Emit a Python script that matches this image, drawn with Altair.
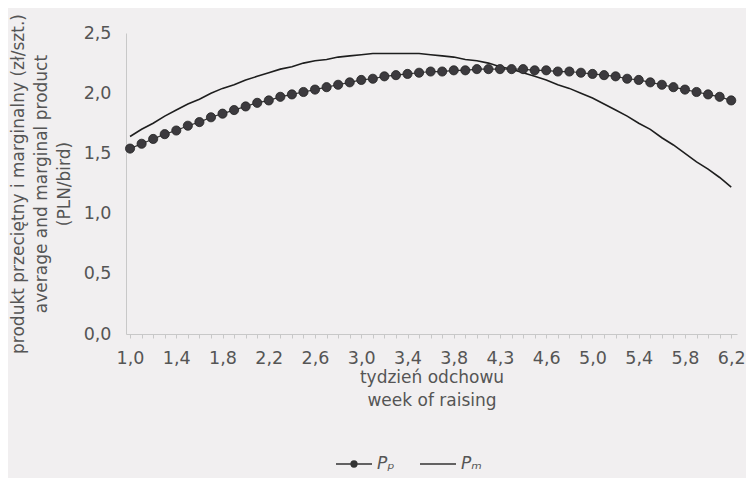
import altair as alt
import pandas as pd

weeks = ["1,0","1,1","1,2","1,3","1,4","1,5","1,6","1,7","1,8","1,9",
         "2,0","2,1","2,2","2,3","2,4","2,5","2,6","2,7","2,8","2,9",
         "3,0","3,1","3,2","3,3","3,4","3,5","3,6","3,7","3,8","3,9",
         "4,0","4,1","4,3","4,4","4,4","4,5","4,6","4,7","4,8","4,9",
         "5,0","5,1","5,2","5,3","5,4","5,5","5,6","5,7","5,8","5,9",
         "6,0","6,1","6,2"]

pp = [1.54,1.58,1.62,1.66,1.69,1.73,1.76,1.80,1.83,1.86,
      1.89,1.92,1.94,1.97,1.99,2.01,2.03,2.05,2.07,2.09,
      2.11,2.12,2.14,2.15,2.16,2.17,2.18,2.18,2.19,2.19,
      2.20,2.20,2.20,2.20,2.20,2.19,2.19,2.18,2.18,2.17,
      2.16,2.15,2.14,2.12,2.11,2.09,2.07,2.05,2.03,2.01,
      1.99,1.97,1.94]

pm = [1.64,1.70,1.75,1.81,1.86,1.91,1.95,2.00,2.04,2.07,
      2.11,2.14,2.17,2.20,2.22,2.25,2.27,2.28,2.30,2.31,
      2.32,2.33,2.33,2.33,2.33,2.33,2.32,2.31,2.30,2.28,
      2.27,2.25,2.22,2.20,2.17,2.14,2.11,2.07,2.04,2.00,
      1.96,1.91,1.86,1.81,1.75,1.70,1.63,1.57,1.50,1.43,
      1.37,1.30,1.22]

series_names = ["P\u209a", "P\u2098"]

idx = list(range(len(weeks)))
df = pd.DataFrame({
    "i": idx * 2,
    "week": weeks * 2,
    "value": pp + pm,
    "series": [series_names[0]] * len(pp) + [series_names[1]] * len(pm),
})
df_pp = df[df["series"] == series_names[0]]
df_pm = df[df["series"] == series_names[1]]

FONT = "DejaVu Sans"
TXT = "#555555"
AX = "#c8c8c8"

label_arr = "[" + ",".join("'" + w + "'" for w in weeks) + "]"
x_label_expr = "datum.value % 4 == 0 ? " + label_arr + "[datum.value] : ''"

x_enc = alt.X(
    "i:Q",
    scale=alt.Scale(domain=[-0.35, len(weeks) - 1 + 0.5], nice=False, zero=False),
    axis=alt.Axis(
        values=idx,
        labelExpr=x_label_expr,
        title=["tydzień odchowu", "week of raising"],
        labelFlush=False,
        labelOverlap=False,
        grid=False,
        tickSize=4,
        labelPadding=11,
        titlePadding=3,
    ),
)
y_enc = alt.Y(
    "value:Q",
    scale=alt.Scale(domain=[0, 2.5], nice=False),
    axis=alt.Axis(
        values=[0, 0.5, 1.0, 1.5, 2.0, 2.5],
        labelExpr="replace(format(datum.value, '.1f'), '.', ',')",
        title=["produkt przeciętny i marginalny (zł/szt.)",
               "average and marginal product", "(PLN/bird)"],
        grid=False,
        ticks=False,
        labelPadding=15,
        titlePadding=10,
    ),
)

line_pm = alt.Chart(df_pm).mark_line(color="#1e1e1e", strokeWidth=1.6).encode(x=x_enc, y=y_enc)
line_pp = alt.Chart(df_pp).mark_line(color="#333333", strokeWidth=1.2).encode(x=x_enc, y=y_enc)
dots_pp = alt.Chart(df_pp).mark_circle(size=84, color="#3c3a3e", opacity=1,
                                       stroke="#222222", strokeWidth=0.8).encode(x=x_enc, y=y_enc)

path_dot = ("M-1,0H1"
            "M-0.16,0A0.16,0.16,0,1,1,0.16,0A0.16,0.16,0,1,1,-0.16,0"
            "M-0.09,0A0.09,0.09,0,1,1,0.09,0A0.09,0.09,0,1,1,-0.09,0"
            "M-0.03,0A0.03,0.03,0,1,1,0.03,0A0.03,0.03,0,1,1,-0.03,0")
path_line = "M-1,0H1"
legend_layer = alt.Chart(df).mark_point(opacity=0, filled=False, color="#333333").encode(
    x=x_enc, y=y_enc,
    shape=alt.Shape(
        "series:N",
        scale=alt.Scale(domain=series_names, range=[path_dot, path_line]),
        legend=alt.Legend(
            title=None,
            orient="none",
            direction="horizontal",
            legendX=209,
            legendY=412,
            symbolSize=1296,
            symbolStrokeColor="#333333",
            symbolStrokeWidth=1.5,
            symbolOpacity=1,
            labelOffset=4,
            labelFont=FONT,
            labelFontSize=17,
            labelFontStyle="italic",
            labelColor=TXT,
        ),
    ),
)

chart = alt.layer(line_pm, line_pp, dots_pp, legend_layer).properties(
    width=611, height=301,
    background="#f1eff0",
    autosize=alt.AutoSizeParams(type="none"),
    padding={"left": 118, "top": 25, "right": 9, "bottom": 144},
).configure_view(stroke=None).configure_axis(
    labelFont=FONT, labelFontSize=17.5, labelColor=TXT,
    titleFont=FONT, titleFontSize=17, titleColor=TXT, titleFontWeight="normal",
    titleLineHeight=23,
    domainColor=AX, tickColor=AX, domainWidth=1,
).configure_legend(columnPadding=22)

chart.save("out.html", embed_options={"renderer": "svg", "actions": False})
